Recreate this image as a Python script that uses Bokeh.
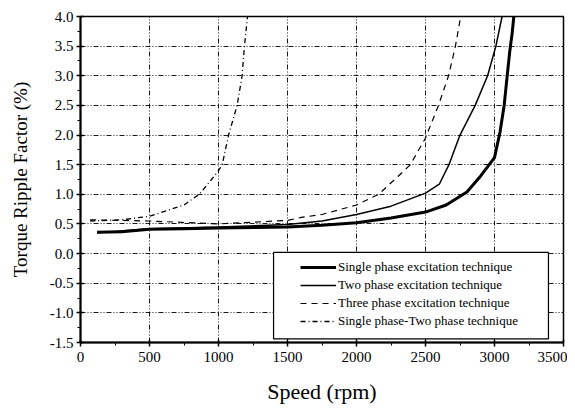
from bokeh.plotting import figure
from bokeh.models import Range1d, SingleIntervalTicker, NumeralTickFormatter, BoxAnnotation
from bokeh.embed import file_html
from bokeh.resources import INLINE

# Speed (rpm) and torque ripple factor (%)
single_x = [120, 300, 500, 750, 1000, 1250, 1500, 1750, 2000, 2250, 2500, 2650, 2800, 2900, 3000, 3040, 3070, 3092, 3110, 3128, 3140]
single_y = [0.36, 0.37, 0.41, 0.42, 0.43, 0.44, 0.45, 0.48, 0.52, 0.60, 0.70, 0.82, 1.04, 1.31, 1.62, 2.05, 2.5, 3.0, 3.4, 3.72, 4.0]

two_x = [120, 500, 1000, 1500, 1750, 2000, 2250, 2500, 2600, 2670, 2750, 2860, 2950, 3010, 3055]
two_y = [0.35, 0.42, 0.45, 0.49, 0.55, 0.66, 0.80, 1.02, 1.17, 1.5, 2.0, 2.5, 3.0, 3.5, 4.0]

three_x = [70, 500, 1000, 1500, 1600, 1750, 2000, 2160, 2300, 2390, 2500, 2594, 2667, 2717, 2755]
three_y = [0.57, 0.55, 0.50, 0.56, 0.61, 0.66, 0.82, 1.0, 1.3, 1.5, 1.95, 2.5, 3.0, 3.5, 4.0]

st_x = [70, 300, 500, 750, 860, 950, 1000, 1027, 1073, 1135, 1171, 1188, 1210]
st_y = [0.55, 0.57, 0.63, 0.82, 1.0, 1.25, 1.40, 1.5, 2.0, 2.5, 3.0, 3.5, 4.0]

labels = ["Single phase excitation technique",
          "Two phase excitation technique",
          "Three phase excitation technique",
          "Single phase-Two phase technique"]

FONT = "Liberation Serif"

p = figure(width=567, height=406, x_range=Range1d(0, 3500), y_range=Range1d(-1.5, 4.0),
           output_backend="svg", toolbar_location=None,
           min_border_left=80, min_border_right=4, min_border_top=16, min_border_bottom=54)

p.background_fill_color = "white"
p.outline_line_color = "black"
p.outline_line_width = 1.5

p.xaxis.ticker = SingleIntervalTicker(interval=500, num_minor_ticks=2)
p.yaxis.ticker = SingleIntervalTicker(interval=0.5, num_minor_ticks=2)
p.yaxis.formatter = NumeralTickFormatter(format="0.0")

for ax in (p.xaxis[0], p.yaxis[0]):
    ax.axis_line_color = "black"
    ax.axis_line_width = 2
    ax.major_tick_line_color = "black"
    ax.major_tick_line_width = 1.5
    ax.minor_tick_line_color = "black"
    ax.major_tick_in = 3
    ax.major_tick_out = 4
    ax.minor_tick_in = 0
    ax.minor_tick_out = 3
    ax.major_label_text_font = FONT
    ax.major_label_text_font_size = "15px"
    ax.major_label_text_color = "black"
    ax.axis_label_text_font = FONT
    ax.axis_label_text_font_style = "normal"
    ax.axis_label_text_color = "black"

p.xaxis.axis_label = "Speed (rpm)"
p.yaxis.axis_label = "Torque Ripple Factor (%)"
p.xaxis.axis_label_text_font_size = "22px"
p.yaxis.axis_label_text_font_size = "19px"
p.xaxis.major_label_standoff = 5
p.xaxis.axis_label_standoff = 14
p.yaxis.major_label_standoff = 3
p.yaxis.axis_label_standoff = 16

for g in (p.xgrid[0], p.ygrid[0]):
    g.grid_line_color = "black"
    g.grid_line_width = 1
    g.grid_line_dash = "5 2 1 2 1 2"
    g.grid_line_alpha = 0.9

# legend frame (white box covering grid)
box = BoxAnnotation(left=1399, right=3391, bottom=-1.44, top=0.02,
                    fill_color="white", fill_alpha=1.0, line_color="black", line_alpha=1.0,
                    line_width=1.2, level="underlay")
p.add_layout(box)

p.line(single_x, single_y, line_color="black", line_width=3, legend_label=labels[0])
p.line(two_x, two_y, line_color="black", line_width=1.5, legend_label=labels[1])
p.line(three_x, three_y, line_color="black", line_width=1.2, line_dash="6 5", legend_label=labels[2])
p.line(st_x, st_y, line_color="black", line_width=1.3, line_dash="5 3 1 3", legend_label=labels[3])

lg = p.legend[0]
lg.location = (220, 12)
lg.background_fill_alpha = 0
lg.border_line_alpha = 0
lg.padding = 0
lg.margin = 0
lg.spacing = 0
lg.label_height = 18
lg.glyph_height = 18
lg.glyph_width = 36
lg.label_standoff = 2
lg.label_text_font = FONT
lg.label_text_font_size = "13px"
lg.label_text_color = "black"

open("out.html", "w").write(file_html(p, INLINE))
